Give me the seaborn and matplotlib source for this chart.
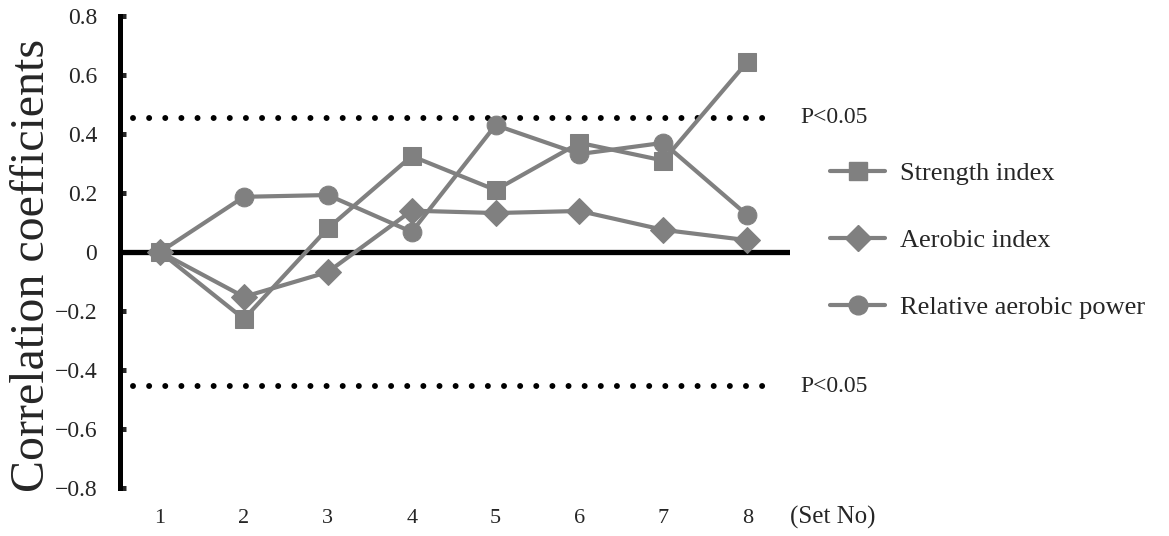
import matplotlib
matplotlib.use("Agg")
import matplotlib.pyplot as plt
from matplotlib.lines import Line2D
import numpy as np
import pandas as pd
import seaborn as sns

# Set numbers on the x axis
sets = [1, 2, 3, 4, 5, 6, 7, 8]

# Correlation coefficients per set
strength_index = [0.00, -0.227, 0.080, 0.325, 0.210, 0.370, 0.310, 0.644]
aerobic_index = [0.00, -0.152, -0.068, 0.140, 0.132, 0.139, 0.075, 0.040]
relative_aerobic_power = [0.00, 0.187, 0.193, 0.068, 0.430, 0.332, 0.370, 0.125]

series_names = ["Strength index", "Aerobic index", "Relative aerobic power"]
series_markers = ["s", "D", "o"]

# Significance thresholds (P<0.05)
thresholds = [0.455, -0.455]
threshold_label = "P<0.05"

ytick_values = [-0.8, -0.6, -0.4, -0.2, 0.0, 0.2, 0.4, 0.6, 0.8]
ytick_labels = ["\u22120.8", "\u22120.6", "\u22120.4", "\u22120.2", "0",
                "0.2", "0.4", "0.6", "0.8"]
xtick_labels = ["1", "2", "3", "4", "5", "6", "7", "8"]

sns.set_theme(style="white")
plt.rcParams["font.family"] = ["Liberation Serif", "DejaVu Serif"]

GRAY = "#808080"

df = pd.DataFrame({
    "set": sets * 3,
    "r": strength_index + aerobic_index + relative_aerobic_power,
    "series": [series_names[0]] * 8 + [series_names[1]] * 8 + [series_names[2]] * 8,
})

fig = plt.figure(figsize=(11.69, 5.36), dpi=100)
ax = fig.add_axes([0.1027, 0.0896, 0.5731, 0.8806])

sns.lineplot(
    data=df, x="set", y="r", hue="series", style="series",
    palette={n: GRAY for n in series_names},
    markers=dict(zip(series_names, series_markers)),
    dashes=False, linewidth=3.0, markersize=13.5,
    markeredgecolor=GRAY, legend=False, ax=ax, zorder=3,
)

# Zero reference line
ax.axhline(0, color="black", linewidth=3.8, zorder=2)

# Dotted significance lines with labels
for thr in thresholds:
    ax.axhline(thr, xmin=0.02, xmax=0.965, color="black", linewidth=4.3,
               linestyle=(0, (0.001, 2.7)), dash_capstyle="round", zorder=1)
    ax.text(1.015, thr, threshold_label, transform=ax.get_yaxis_transform(),
            ha="left", va="center", fontsize=17, clip_on=False)

ax.set_xlim(0.523, 8.51)
ax.set_ylim(-0.8, 0.8)
ax.set_yticks(ytick_values)
ax.set_yticklabels(ytick_labels, fontsize=17)
ax.set_xticks(sets)
ax.set_xticklabels(xtick_labels, fontsize=16)
ax.tick_params(axis="x", length=0, pad=15)
ax.tick_params(axis="y", direction="in", length=4, width=3.6, pad=16.5,
               left=True)
ax.set_xlabel("")
ax.set_ylabel("Correlation coefficients", fontsize=34.5)
ax.yaxis.set_label_coords(-0.0985, 0.472)

for side in ["top", "right", "bottom"]:
    ax.spines[side].set_visible(False)
ax.spines["left"].set_linewidth(3.6)
ax.spines["left"].set_color("black")

ax.text(1.0, -0.0615, "(Set No)", transform=ax.transAxes, ha="left",
        va="center", fontsize=18)

handles = [
    Line2D([0], [0], color=GRAY, linewidth=3.0, marker=m, markersize=13.5,
           markerfacecolor=GRAY, markeredgecolor=GRAY)
    for m in series_markers
]
fig.legend(handles, series_names, loc="center left",
           bbox_to_anchor=(830 / 1169, 0.551), frameon=False, fontsize=19,
           handlelength=2.1, handletextpad=0.55, labelspacing=1.65,
           borderpad=0, borderaxespad=0)

fig.savefig("out.png", dpi=100)
